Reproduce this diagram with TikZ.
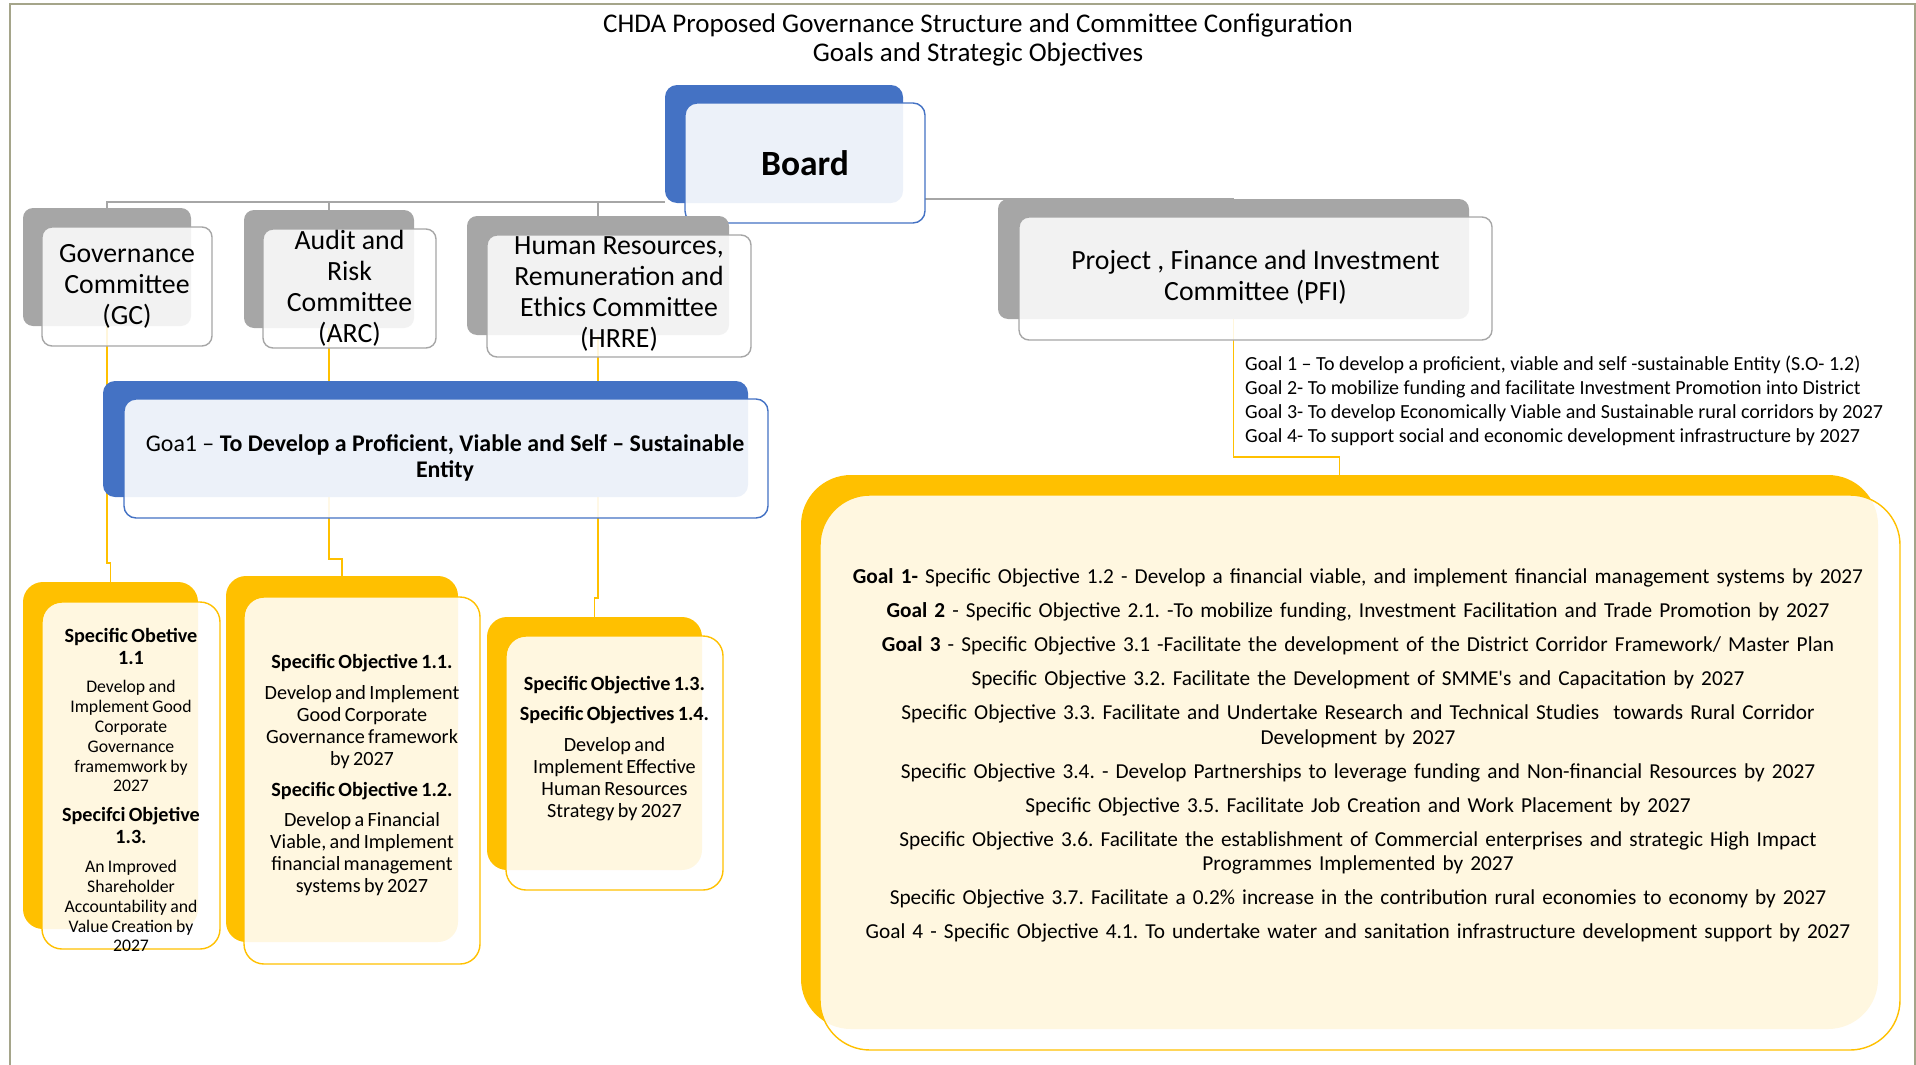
\documentclass[tikz,border=0pt]{standalone}
\usepackage{fontspec}
\setmainfont{Carlito}
\usetikzlibrary{backgrounds}
\definecolor{frameC}{HTML}{A5A58A}
\definecolor{blueC}{HTML}{4472C4}
\definecolor{grayC}{HTML}{A6A6A6}
\definecolor{goldC}{HTML}{FFC000}
\tikzset{
  bx/.style={rectangle, inner sep=0pt, outer sep=0pt},
  gback/.style={bx, fill=grayC, rounded corners=10pt},
  gfront/.style={bx, draw=grayC, line width=1.4pt, fill=white, fill opacity=0.86, rounded corners=10pt},
  bback/.style={bx, fill=blueC, rounded corners=12pt},
  bfront/.style={bx, draw=blueC, line width=1.4pt, fill=white, fill opacity=0.9, rounded corners=12pt},
  yback/.style={bx, fill=goldC, rounded corners=20pt},
  yfront/.style={bx, draw=goldC, line width=1.4pt, fill=white, fill opacity=0.88, rounded corners=20pt},
  gline/.style={draw=grayC, line width=1.3pt},
  yline/.style={draw=goldC, line width=1.3pt},
  cfont/.style={font=\fontsize{27.8}{31}\selectfont, align=center, inner sep=0pt},
  ytext/.style={align=center, inner sep=0pt},
}
\newcommand{\hb}{\bfseries\fontsize{20.2}{22}\selectfont}
\newcommand{\nsmall}{\fontsize{17.7}{19.8}\selectfont}
\newcommand{\nmid}{\fontsize{20.2}{22}\selectfont}
\frenchspacing
\begin{document}
\begin{tikzpicture}[x=1pt,y=-1pt]
\useasboundingbox (0,0) rectangle (1916,1065);
\draw[frameC, line width=2pt] (9.5,1066) -- (9.5,4) -- (1914.5,4) -- (1914.5,1066);

\node[font=\fontsize{27}{29}\selectfont, align=center, inner sep=0pt] (title) at (978,39.5)
  {CHDA Proposed Governance Structure and Committee Configuration\\Goals and Strategic Objectives};

% Board
\node[bback, minimum width=238pt, minimum height=118pt] (bdB) at (784,144) {};
\node[bfront, minimum width=240pt, minimum height=120pt] (bdF) at (805,163) {};
\node[font=\bfseries\fontsize{35.5}{40}\selectfont, inner sep=0pt] (bdT) at (805,163) {Board};

% Committees
\node[gback, minimum width=168pt, minimum height=118pt] (gcB) at (107,267) {};
\node[gfront, minimum width=170pt, minimum height=119pt] (gcF) at (127,286.5) {};
\node[cfont] (gcT) at (127,286.5) {Governance\\Committee\\(GC)};

\node[gback, minimum width=170pt, minimum height=118pt] (arB) at (329,269) {};
\node[gfront, minimum width=173pt, minimum height=119pt] (arF) at (349.5,288.5) {};
\node[cfont] (arT) at (349.5,288) {Audit and\\Risk\\Committee\\(ARC)};

\node[gback, minimum width=262pt, minimum height=119pt] (hrB) at (598,275.5) {};
\node[gfront, minimum width=264pt, minimum height=122pt] (hrF) at (619,296) {};
\node[cfont] (hrT) at (619,294.5) {Human Resources,\\Remuneration and\\Ethics Committee\\(HRRE)};

\node[gback, minimum width=471pt, minimum height=120pt] (pfB) at (1233.5,259) {};
\node[gfront, minimum width=473pt, minimum height=123pt] (pfF) at (1255.5,278.5) {};
\node[cfont] (pfT) at (1255.5,277.5) {Project , Finance and Investment\\Committee (PFI)};

\node[font=\fontsize{20}{24}\selectfont, align=left, anchor=west, inner sep=0pt] (pgT) at (1245,401)
  {Goal 1 – To develop a proficient, viable and self -sustainable Entity (S.O- 1.2)\\
   Goal 2- To mobilize funding and facilitate Investment Promotion into District\\
   Goal 3- To develop Economically Viable and Sustainable rural corridors by 2027\\
   Goal 4- To support social and economic development infrastructure by 2027};

% Goal 1 box
\node[bback, minimum width=645pt, minimum height=116pt] (g1B) at (425.5,439) {};
\node[bfront, minimum width=644pt, minimum height=119pt] (g1F) at (446,458.5) {};
\node[font=\fontsize{23.9}{26}\selectfont, align=center, inner sep=0pt] (g1T) at (445,458)
  {Goa1 – \textbf{To Develop a Proficient, Viable and Self – Sustainable}\\\textbf{Entity}};

% Specific objective boxes
\node[yback, minimum width=175pt, minimum height=347pt] (b1B) at (110.5,755.5) {};
\node[yfront, minimum width=178pt, minimum height=347pt] (b1F) at (131,775.5) {};
\node[ytext, text width=176pt] (b1T) at (131,790) {%
  {\hb Specific Obetive\\1.1\par}\vspace{9pt}
  {\nsmall Develop and\\Implement Good\\Corporate\\Governance\\framemwork by\\2027\par}\vspace{8pt}
  {\hb Specifci Objetive\\1.3.\par}\vspace{9pt}
  {\nsmall An Improved\\Shareholder\\Accountability and\\Value Creation by\\2027\par}};

\node[yback, minimum width=232pt, minimum height=366pt] (b2B) at (342,759) {};
\node[yfront, minimum width=236pt, minimum height=367pt] (b2F) at (362,780.5) {};
\node[ytext, text width=234pt] (b2T) at (362,775.5) {%
  {\hb Specific Objective 1.1.\par}\vspace{9pt}
  {\nmid Develop and Implement\\Good Corporate\\Governance framework\\by 2027\par}\vspace{9pt}
  {\hb Specific Objective 1.2.\par}\vspace{8pt}
  {\nmid Develop a Financial\\Viable, and Implement\\financial management\\systems by 2027\par}};

\node[yback, minimum width=215pt, minimum height=253pt] (b3B) at (594.5,743.5) {};
\node[yfront, minimum width=217pt, minimum height=254pt] (b3F) at (614.5,763) {};
\node[ytext, text width=215pt] (b3T) at (614.5,748.5) {%
  {\hb Specific Objective 1.3.\par}\vspace{8pt}
  {\hb Specific Objectives 1.4.\par}\vspace{9pt}
  {\nmid Develop and\\Implement Effective\\Human Resources\\Strategy by 2027\par}};

% Big box
\node[yback, rounded corners=50pt, minimum width=1077pt, minimum height=554pt] (bgB) at (1339.5,752) {};
\node[yfront, rounded corners=50pt, minimum width=1080pt, minimum height=555pt] (bgF) at (1360,772.5) {};
\node[ytext, text width=1070pt, font=\fontsize{21.3}{24.5}\selectfont] (bgT) at (1358,755.5) {%
  \textbf{Goal 1-} Specific Objective 1.2 - Develop a financial viable, and implement financial management systems by 2027\\[9.5pt]
  \textbf{Goal 2} - Specific Objective 2.1. -To mobilize funding, Investment Facilitation and Trade Promotion by 2027\\[9.5pt]
  \textbf{Goal 3} - Specific Objective 3.1 -Facilitate the development of the District Corridor Framework/ Master Plan\\[9.5pt]
  Specific Objective 3.2. Facilitate the Development of SMME\textquotesingle s and Capacitation by 2027\\[9.5pt]
  Specific Objective 3.3. Facilitate and Undertake Research and Technical Studies\ \ towards Rural Corridor\\
  Development by 2027\\[9.5pt]
  Specific Objective 3.4. - Develop Partnerships to leverage funding and Non-financial Resources by 2027\\[9.5pt]
  Specific Objective 3.5. Facilitate Job Creation and Work Placement by 2027\\[9.5pt]
  Specific Objective 3.6. Facilitate the establishment of Commercial enterprises and strategic High Impact\\
  Programmes Implemented by 2027\\[9.5pt]
  Specific Objective 3.7. Facilitate a 0.2\% increase in the contribution rural economies to economy by 2027\\[9.5pt]
  Goal 4 - Specific Objective 4.1. To undertake water and sanitation infrastructure development support by 2027\par};

% Connectors
\begin{scope}[on background layer]
  \coordinate (bus) at (0,202);
  \draw[gline] (gcB.north) -- (gcB.north |- bus) -- (bdB.west |- bus);
  \draw[gline] (arB.north) -- (arB.north |- bus);
  \draw[gline] (hrB.north) -- (hrB.north |- bus);
  \coordinate (bus2) at (0,199);
  \draw[gline] (bdF.east |- bus2) -- (pfB.north |- bus2);
  \coordinate (k1) at (0,563);
  \coordinate (k2) at (0,559);
  \coordinate (k3) at (0,598);
  \coordinate (k4) at (0,457);
  \draw[yline] (gcB.south) |- (b1B.north |- k1) -- (b1B.north);
  \draw[yline] (arB.south) |- (b2B.north |- k2) -- (b2B.north);
  \draw[yline] (hrB.south) |- (b3B.north |- k3) -- (b3B.north);
  \draw[yline] (pfB.south) |- (bgB.north |- k4) -- (bgB.north);
\end{scope}
\end{tikzpicture}
\end{document}
